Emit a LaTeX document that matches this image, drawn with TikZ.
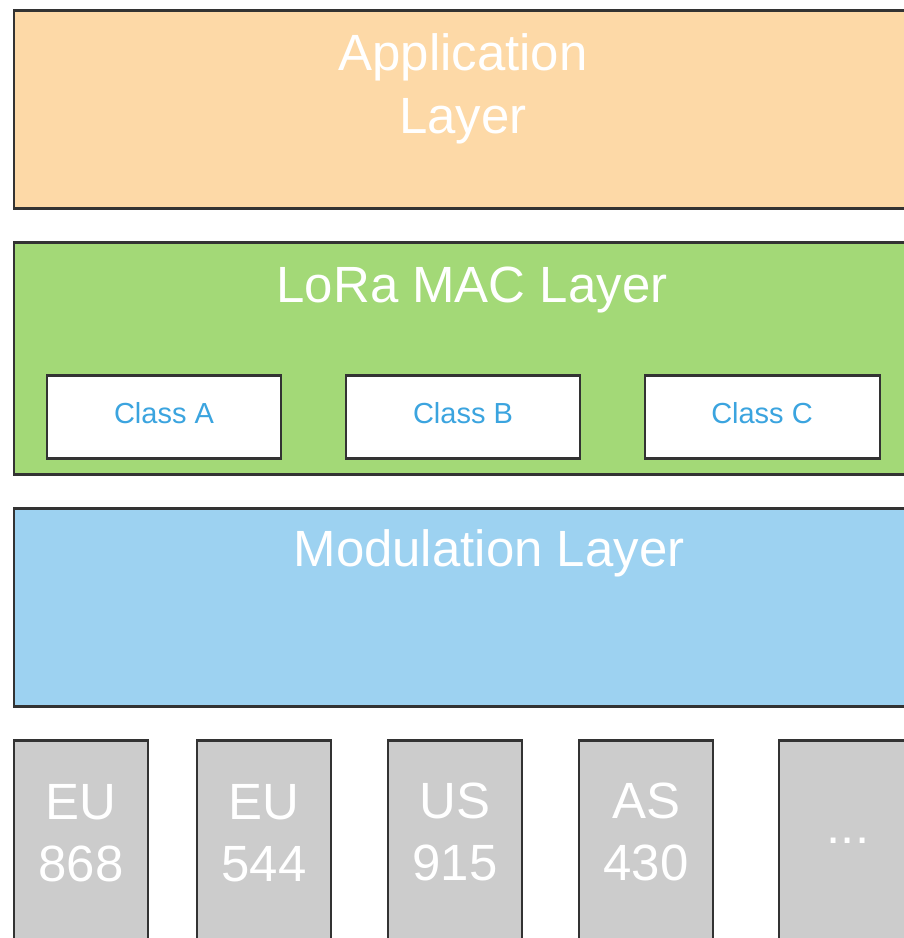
\documentclass[tikz,border=0pt]{standalone}
\usepackage{fontspec}
\setmainfont{Liberation Sans}
\usepackage{tikz}

\definecolor{appfill}{RGB}{253,217,167}
\definecolor{macfill}{RGB}{163,217,119}
\definecolor{modfill}{RGB}{157,210,241}
\definecolor{bandfill}{RGB}{204,204,204}
\definecolor{edgegray}{RGB}{51,51,51}
\definecolor{classblue}{RGB}{59,164,223}

\tikzset{
    box/.style={draw=edgegray, line width=1.7pt},
    bigtext/.style={text=white, align=center, font=\fontsize{29}{35.5}\selectfont},
    classtext/.style={text=classblue, font=\fontsize{16.5}{20}\selectfont}
}

\begin{document}
\begin{tikzpicture}[x=0.02cm, y=-0.02cm]

        \path[use as bounding box, clip] (0,0) rectangle (904,938);

        % layers
        \filldraw[box, fill=appfill] (14,10) rectangle (912,208);
        \filldraw[box, fill=macfill] (14,242) rectangle (912,474);
        \filldraw[box, fill=modfill] (14,508) rectangle (912,706);

        \node[bigtext] (app) at (463,89) {Application\\Layer};
        \node[bigtext] (mac) at (472,290) {LoRa MAC Layer};
        \node[bigtext] (mod) at (489,553) {Modulation Layer};

        % device classes
        \filldraw[box, fill=white] (47,375) rectangle (281,458);
        \filldraw[box, fill=white] (346,375) rectangle (580,458);
        \filldraw[box, fill=white] (645,375) rectangle (880,458);

        \node[classtext] (classA) at (164,413) {Class A};
        \node[classtext] (classB) at (463,413) {Class B};
        \node[classtext] (classC) at (762,413) {Class C};

        % regional bands
        \filldraw[box, fill=bandfill] (14,740) rectangle (148,960);
        \filldraw[box, fill=bandfill] (197,740) rectangle (331,960);
        \filldraw[box, fill=bandfill] (388,740) rectangle (522,960);
        \filldraw[box, fill=bandfill] (579,740) rectangle (713,960);
        \filldraw[box, fill=bandfill] (779,740) rectangle (913,960);

        \node[bigtext] (eu868) at (81,833) {EU\\868};
        \node[bigtext] (eu544) at (264,833) {EU\\544};
        \node[bigtext] (us915) at (455,832) {US\\915};
        \node[bigtext] (as430) at (646,832) {AS\\430};
        \node[bigtext] (more) at (848,841) {...};

\end{tikzpicture}
\end{document}
